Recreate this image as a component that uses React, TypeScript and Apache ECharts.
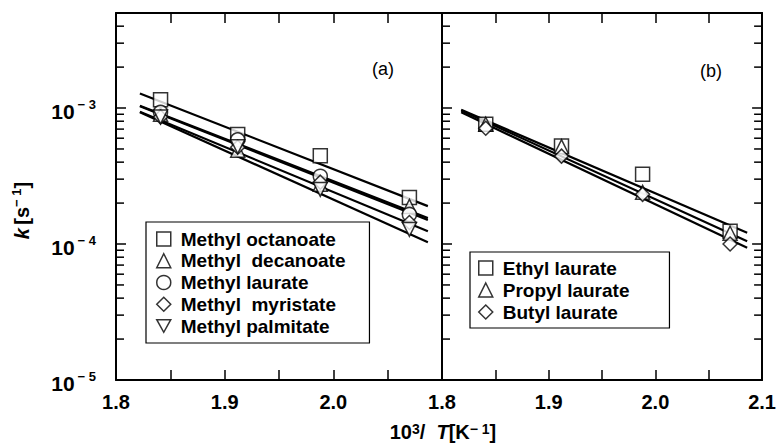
import React, { useEffect, useRef } from 'react';
import * as echarts from 'echarts';

// 10^3/T positions of the four measurement temperatures
const invTemp = [1.841, 1.912, 1.988, 2.07];
// x-range spanned by the fitted lines
const fitXA = [1.822, 2.087];
const fitXB = [1.818, 2.086];

// Panel (a): methyl esters, k [s^-1]
const methylOctanoate = [1.15e-3, 6.4e-4, 4.45e-4, 2.2e-4];
const methylDecanoate = [9.0e-4, 4.9e-4, 2.75e-4, 1.89e-4];
const methylLaurate = [9.3e-4, 5.84e-4, 3.15e-4, 1.65e-4];
const methylMyristate = [8.6e-4, 5.15e-4, 2.85e-4, 1.44e-4];
const methylPalmitate = [8.6e-4, 5.2e-4, 2.52e-4, 1.28e-4];
// Panel (a) fitted lines (k at fitXA ends)
const fitOctanoate = [1.28e-3, 1.9e-4];
const fitDecanoate = [1.04e-3, 1.55e-4];
const fitLaurate = [1.03e-3, 1.5e-4];
const fitMyristate = [9.4e-4, 1.24e-4];
const fitPalmitate = [9.3e-4, 1.03e-4];

// Panel (b): laurates
const ethylLaurate = [7.6e-4, 5.25e-4, 3.26e-4, 1.24e-4];
const propylLaurate = [7.6e-4, 5.2e-4, 2.4e-4, 1.2e-4];
const butylLaurate = [7.1e-4, 4.43e-4, 2.32e-4, 1.0e-4];
const fitEthyl = [9.7e-4, 1.21e-4];
const fitPropyl = [9.6e-4, 1.05e-4];
const fitButyl = [9.3e-4, 9.4e-5];

const namesA = ['Methyl octanoate', 'Methyl  decanoate', 'Methyl laurate', 'Methyl  myristate', 'Methyl palmitate'];
const namesB = ['Ethyl laurate', 'Propyl laurate', 'Butyl laurate'];
const panelLabels = ['(a)', '(b)'];

const yMin = 1e-5;
const yMax = 5e-3;
const xMin = 1.8;
const xMax = 2.1;
const minorTickValues = [
  2e-5, 3e-5, 4e-5, 5e-5, 6e-5, 7e-5, 8e-5, 9e-5,
  2e-4, 3e-4, 4e-4, 5e-4, 6e-4, 7e-4, 8e-4, 9e-4,
  2e-3, 3e-3, 4e-3,
];

const FONT = '"Liberation Sans", Arial, Helvetica, sans-serif';
const downTri = 'path://M0,0L20,0L10,18Z';
const symbolsA = ['rect', 'triangle', 'circle', 'diamond', downTri];
const symbolsB = ['rect', 'triangle', 'diamond'];

export default function App() {
  const ref = useRef<HTMLDivElement>(null);
  useEffect(() => {
    if (!ref.current) return;
    const chart = echarts.init(ref.current, undefined, { renderer: 'svg' });

    const axisLine = { show: true, onZero: false, lineStyle: { color: '#000', width: 2 } };
    const tick = { show: true, inside: true, length: 10, lineStyle: { color: '#000', width: 1.5 } };
    const isTenth = (v: number) => Math.abs(v * 10 - Math.round(v * 10)) < 1e-6;
    const xLabel = (hideMax: boolean) => ({
      show: true,
      margin: 12,
      color: '#000',
      fontSize: 20,
      fontWeight: 'bold',
      fontFamily: FONT,
      formatter: (v: number) => (isTenth(v) && !(hideMax && v > 2.09) ? v.toFixed(1) : ''),
    });
    const mkX = (grid: number, position: string, labels: boolean, hideMax: boolean) => ({
      type: 'value', gridIndex: grid, position, min: xMin, max: xMax, interval: 0.05,
      axisLine, axisTick: tick, splitLine: { show: false },
      axisLabel: labels ? xLabel(hideMax) : { show: false },
    });
    const yLabel = {
      show: true,
      margin: 20,
      color: '#000',
      fontSize: 20,
      fontWeight: 'bold',
      fontFamily: FONT,
      formatter: (v: number) => {
        const l = Math.log10(v);
        const e = Math.round(l);
        if (Math.abs(l - e) > 1e-6) return '';
        return `{b|10}{s|\u2212 ${-e}}`;
      },
      rich: {
        b: { fontSize: 21, fontWeight: 'bold', fontFamily: FONT, color: '#000', lineHeight: 20, padding: [6, 0, 0, 0] },
        s: { fontSize: 13, fontWeight: 'bold', fontFamily: FONT, color: '#000', lineHeight: 12, verticalAlign: 'top', padding: [0, 0, 0, 3] },
      },
    };
    const mkY = (grid: number, position: string, labels: boolean, extra: any = {}) => ({
      type: 'log', logBase: 10, gridIndex: grid, position, min: yMin, max: yMax,
      axisLine, axisTick: tick, splitLine: { show: false }, minorTick: { show: false },
      axisLabel: labels ? yLabel : { show: false },
      ...extra,
    });

    const scatter = (name: string, vals: number[], symbol: string, xi: number, yi: number) => ({
      type: 'scatter', name, xAxisIndex: xi, yAxisIndex: yi, symbol, symbolSize: 14,
      itemStyle: { color: '#fff', borderColor: '#000', borderWidth: 1.5 },
      emphasis: { disabled: true },
      data: invTemp.map((x, i) => [x, vals[i]]),
      z: 5,
    });
    const fit = (xs: number[], vals: number[], xi: number, yi: number) => ({
      type: 'line', xAxisIndex: xi, yAxisIndex: yi, showSymbol: false, symbol: 'none',
      lineStyle: { color: '#000', width: 2.2 },
      emphasis: { disabled: true }, silent: true,
      data: xs.map((x, i) => [x, vals[i]]),
      z: 2,
    });
    const minorTicks = (xi: number, yi: number, xVal: number, dir: number) => ({
      type: 'custom', xAxisIndex: xi, yAxisIndex: yi, coordinateSystem: 'cartesian2d', silent: true, clip: false,
      data: minorTickValues.map((v) => [xVal, v]),
      renderItem: (_p: any, api: any) => {
        const p = api.coord([api.value(0), api.value(1)]);
        return {
          type: 'line',
          shape: { x1: p[0], y1: p[1], x2: p[0] + dir * 8, y2: p[1] },
          style: { stroke: '#000', lineWidth: 1.5 },
        };
      },
      z: 3,
    });

    const legendBase = {
      orient: 'vertical',
      borderColor: '#000',
      borderWidth: 1.2,
      borderRadius: 0,
      backgroundColor: '#fff',
      itemWidth: 14,
      itemHeight: 14,
      selectedMode: false,
      itemStyle: { color: '#fff', borderColor: '#000', borderWidth: 1.5 },
      formatter: (n: string) => `{p|${n}}`,
      textStyle: {
        color: '#000', fontSize: 19, fontWeight: 'bold', fontFamily: FONT, lineHeight: 19,
        rich: { p: { fontSize: 19, fontWeight: 'bold', fontFamily: FONT, color: '#000', lineHeight: 19, padding: [0, 0, 0, 5] } },
      },
    };

    const yNameRich = {
      n: { fontSize: 20, fontWeight: 'bold', fontFamily: FONT, color: '#000', lineHeight: 20, padding: [4, 0, 0, 0] },
      e: { fontSize: 20, fontWeight: 'bold', fontFamily: FONT, color: '#000', lineHeight: 20, padding: [4, 28, 0, 0] },
      i: { fontSize: 20, fontWeight: 'bold', fontStyle: 'italic', fontFamily: FONT, color: '#000', lineHeight: 20, padding: [4, 0, 0, 0] },
      s: { fontSize: 13, fontWeight: 'bold', fontFamily: FONT, color: '#000', lineHeight: 13, verticalAlign: 'top' },
    };
    const xNameRich = {
      n: { fontSize: 20, fontWeight: 'bold', fontFamily: FONT, color: '#000', lineHeight: 20 },
      i: { fontSize: 20, fontWeight: 'bold', fontStyle: 'italic', fontFamily: FONT, color: '#000', lineHeight: 20 },
      s: { fontSize: 14, fontWeight: 'bold', fontFamily: FONT, color: '#000', lineHeight: 14, verticalAlign: 'top' },
    };

    const option: any = {
      animation: false,
      backgroundColor: '#fff',
      grid: [
        { left: 116, top: 13, width: 326, height: 367 },
        { left: 442, top: 13, width: 326, height: 367 },
      ],
      xAxis: [
        mkX(0, 'bottom', true, true),
        mkX(0, 'top', false, false),
        mkX(1, 'bottom', true, false),
        mkX(1, 'top', false, false),
      ],
      yAxis: [
        mkY(0, 'left', true, {
          name: '{i|k} {n|[s}{s|\u2212 1}{e|]}',
          nameLocation: 'middle',
          nameRotate: 90,
          nameGap: 86,
          nameTextStyle: { rich: yNameRich },
        }),
        mkY(1, 'left', false),
        mkY(1, 'right', false),
      ],
      legend: [
        {
          ...legendBase,
          left: 146, top: 222,
          itemGap: 2.75,
          padding: [7.5, 24, 7.5, 10],
          data: namesA.map((n, i) => ({ name: n, icon: symbolsA[i] })),
        },
        {
          ...legendBase,
          left: 470, top: 252,
          itemGap: 3,
          padding: [6.5, 40, 6.5, 8],
          data: namesB.map((n, i) => ({ name: n, icon: symbolsB[i] })),
        },
      ],
      graphic: [
        { type: 'text', x: 383, y: 69, style: { text: panelLabels[0], font: `18px ${FONT}`, fill: '#000', align: 'center', verticalAlign: 'middle', textAlign: 'center', textVerticalAlign: 'middle' } },
        { type: 'text', x: 711, y: 71, style: { text: panelLabels[1], font: `18px ${FONT}`, fill: '#000', align: 'center', verticalAlign: 'middle', textAlign: 'center', textVerticalAlign: 'middle' } },
        {
          type: 'text', x: 443, y: 431.5,
          style: {
            text: '{n|10}{s|3}{n|/  }{i|T}{n|[K}{s|\u2212 1}{n|]}',
            rich: xNameRich,
            fill: '#000',
            align: 'center', verticalAlign: 'middle', textAlign: 'center', textVerticalAlign: 'middle',
          },
        },
      ],
      series: [
        fit(fitXA, fitOctanoate, 0, 0),
        fit(fitXA, fitDecanoate, 0, 0),
        fit(fitXA, fitLaurate, 0, 0),
        fit(fitXA, fitMyristate, 0, 0),
        fit(fitXA, fitPalmitate, 0, 0),
        scatter(namesA[0], methylOctanoate, symbolsA[0], 0, 0),
        scatter(namesA[1], methylDecanoate, symbolsA[1], 0, 0),
        scatter(namesA[2], methylLaurate, symbolsA[2], 0, 0),
        scatter(namesA[3], methylMyristate, symbolsA[3], 0, 0),
        scatter(namesA[4], methylPalmitate, symbolsA[4], 0, 0),
        fit(fitXB, fitEthyl, 2, 1),
        fit(fitXB, fitPropyl, 2, 1),
        fit(fitXB, fitButyl, 2, 1),
        scatter(namesB[0], ethylLaurate, symbolsB[0], 2, 1),
        scatter(namesB[1], propylLaurate, symbolsB[1], 2, 1),
        scatter(namesB[2], butylLaurate, symbolsB[2], 2, 1),
        minorTicks(0, 0, xMin, 1),
        minorTicks(2, 1, xMin, 1),
        minorTicks(2, 2, xMax, -1),
      ],
    };
    chart.setOption(option);
    return () => chart.dispose();
  }, []);
  return <div ref={ref} style={{ position: 'fixed', left: 0, top: 0, width: 779, height: 443 }} />;
}
